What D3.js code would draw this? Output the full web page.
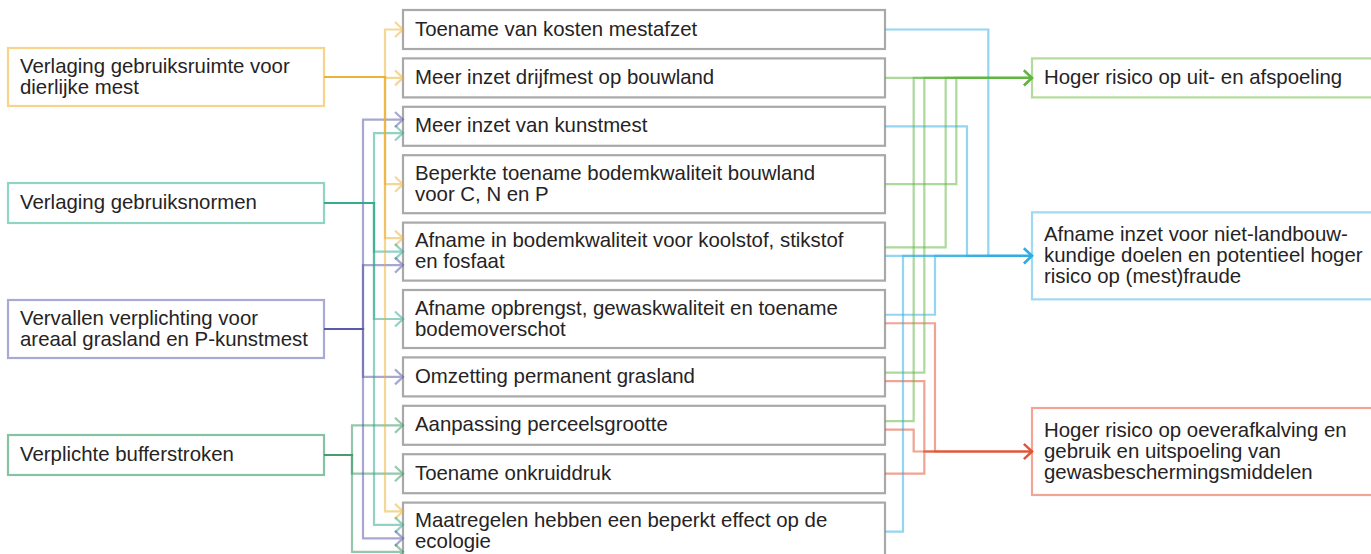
<!DOCTYPE html>
<html>
<head>
<meta charset="utf-8">
<script src="https://cdn.jsdelivr.net/npm/d3@7"></script>
<style>
  body { margin: 0; background: #fff; }
  svg text { font-family: "Liberation Sans", Arial, sans-serif; font-size: 20.4px; fill: #262324; }
</style>
</head>
<body>
<script>
// Measures (left column), one entry per box, one string per line
var measures = [
  ["Verlaging gebruiksruimte voor", "dierlijke mest"],
  ["Verlaging gebruiksnormen"],
  ["Vervallen verplichting voor", "areaal grasland en P-kunstmest"],
  ["Verplichte bufferstroken"],
];

// Effects (middle column)
var effects = [
  ["Toename van kosten mestafzet"],
  ["Meer inzet drijfmest op bouwland"],
  ["Meer inzet van kunstmest"],
  ["Beperkte toename bodemkwaliteit bouwland", "voor C, N en P"],
  ["Afname in bodemkwaliteit voor koolstof, stikstof", "en fosfaat"],
  ["Afname opbrengst, gewaskwaliteit en toename", "bodemoverschot"],
  ["Omzetting permanent grasland"],
  ["Aanpassing perceelsgrootte"],
  ["Toename onkruiddruk"],
  ["Maatregelen hebben een beperkt effect op de", "ecologie"],
];

// Risks (right column)
var risks = [
  ["Hoger risico op uit- en afspoeling"],
  ["Afname inzet voor niet-landbouw-", "kundige doelen en potentieel hoger", "risico op (mest)fraude"],
  ["Hoger risico op oeverafkalving en", "gebruik en uitspoeling van", "gewasbeschermingsmiddelen"],
];

// measure -> effect  [measure, effect]
var measureLinks = [
  [0, 0], [0, 1], [2, 2], [1, 2], [0, 3], [0, 4], [1, 4], [2, 4],
  [1, 5], [2, 6], [3, 7], [3, 8], [0, 9], [1, 9], [2, 9], [3, 9],
];

// effect -> risk  [effect, risk]
var riskLinks = [
  [0, 1], [1, 0], [2, 1], [3, 0], [4, 0], [4, 1], [5, 1], [5, 2],
  [6, 0], [6, 2], [7, 0], [7, 2], [8, 2], [9, 1],
];

// ---- layout & styles ----
var width = 1371, height = 554;
var lineH = 21;
var measureColors = ["#eaaf2f", "#27a688", "#5050a5", "#2e8f5c"];
var measureStroke = ["#f7d48c", "#8fd5c4", "#a9a9d6", "#86c3a2"];
var riskColors = ["#5cb33a", "#2aace4", "#e2492a"];
var riskStroke = ["#b3dc9c", "#9fd9f2", "#f2a595"];
// vertical lane (ordinal) used by each effect -> risk link, null = straight
var riskLane = [8, null, 6, 5, 4, null, 3, 3, 2, 2, 1, 1, 2, 0];

var col = {
  left: { x0: 8, x1: 324 },
  mid: { x0: 403, x1: 885 },
  right: { x0: 1032, x1: 1400 },
};

var svg = d3.select("body").append("svg")
  .attr("width", width)
  .attr("height", height);

// left column centres
var measureY = d3.scalePoint().domain(d3.range(measures.length)).range([77, 455]);
var measureH = (d) => (d.length == 1 ? 40 : 58);
var measureLaneX = d3.scaleLinear().domain([0, 3]).range([385, 352]);

// middle column: stacked boxes
var effectH = (d) => (d.length == 1 ? 39 : 58);
var gap = 9.4;
var effectTop = [];
var acc = 10;
effects.forEach((d) => {
  effectTop.push(acc);
  acc += effectH(d) + gap;
});
var effectMid = effects.map((d, i) => effectTop[i] + effectH(d) / 2);

// ports on each side of middle boxes
function ports(links, side, spacing) {
  var out = links.map(() => 0);
  effects.forEach((e, i) => {
    var idx = [];
    links.forEach((l, j) => { if (l[side] == i) idx.push(j); });
    idx.forEach((j, k) => {
      out[j] = effectMid[i] + (k - (idx.length - 1) / 2) * spacing;
    });
  });
  return out;
}
var inPorts = ports(measureLinks, 1, 13.5);
var outPorts = ports(riskLinks, 0, 8.5);

// right column arrow targets
var riskY = [
  outPorts[1],
  outPorts[5],
  (effectTop[7] + effectH(effects[7]) + effectTop[8]) / 2 + 2,
];
var riskH = (d) => (d.length == 1 ? 39 : 39 + (d.length - 1) * 24);
var riskLaneX = d3.scaleLinear().domain([0, 8]).range([903, 988.3]);

function arrowHead(x, y) {
  return `M${x - 8},${y - 7.5}L${x},${y}L${x - 8},${y + 7.5}`;
}

function drawBox(g, x0, x1, cy, h, lines, stroke) {
  g.append("rect")
    .attr("x", x0).attr("y", cy - h / 2)
    .attr("width", x1 - x0).attr("height", h)
    .attr("fill", "#fff")
    .attr("stroke", stroke)
    .attr("stroke-width", 2.2);
  var t = g.append("text").attr("x", x0 + 12);
  lines.forEach((line, i) => {
    t.append("tspan")
      .attr("x", x0 + 12)
      .attr("y", cy + 6 + (i - (lines.length - 1) / 2) * lineH)
      .text(line);
  });
}

// boxes
var boxes = svg.append("g");
measures.forEach((d, i) => {
  drawBox(boxes, col.left.x0, col.left.x1, measureY(i), measureH(d), d, measureStroke[i]);
});
effects.forEach((d, i) => {
  drawBox(boxes, col.mid.x0, col.mid.x1, effectMid[i], effectH(d), d, "#a9a9a9");
});
risks.forEach((d, i) => {
  drawBox(boxes, col.right.x0, col.right.x1, riskY[i], riskH(d), d, riskStroke[i]);
});

// measure -> effect links
svg.append("g")
  .selectAll("path")
  .data(measureLinks)
  .join("path")
  .attr("fill", "none")
  .attr("stroke", (d) => measureColors[d[0]])
  .attr("stroke-width", 2.2)
  .attr("stroke-opacity", 0.5)
  .attr("d", (d, j) => {
    var sy = measureY(d[0]);
    var lx = measureLaneX(d[0]);
    var ty = inPorts[j];
    var tip = col.mid.x0;
    return `M${col.left.x1},${sy}H${lx}V${ty}H${tip}` + arrowHead(tip, ty);
  });

// effect -> risk links
svg.append("g")
  .selectAll("path")
  .data(riskLinks)
  .join("path")
  .attr("fill", "none")
  .attr("stroke", (d) => riskColors[d[1]])
  .attr("stroke-width", 2.2)
  .attr("stroke-opacity", 0.5)
  .attr("d", (d, j) => {
    var sy = outPorts[j];
    var ty = riskY[d[1]];
    var tip = col.right.x0;
    var lane = riskLane[j];
    var p = lane == null
      ? `M${col.mid.x1},${ty}H${tip}`
      : `M${col.mid.x1},${sy}H${riskLaneX(lane)}V${ty}H${tip}`;
    return p + arrowHead(tip, ty);
  });
</script>
</body>
</html>
